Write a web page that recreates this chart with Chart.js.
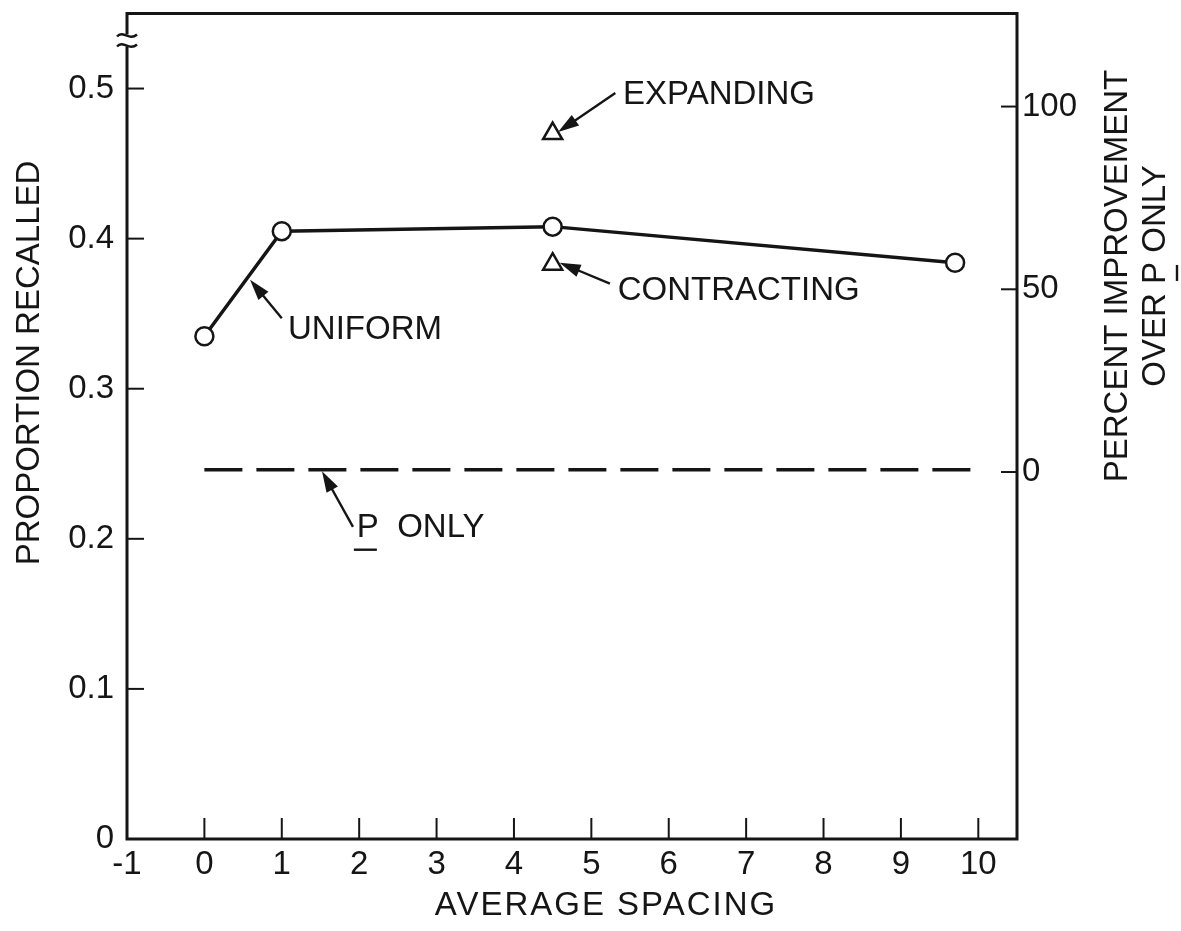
<!DOCTYPE html>
<html>
<head>
<meta charset="utf-8">
<script src="https://cdn.jsdelivr.net/npm/chart.js@4.4.0/dist/chart.umd.min.js"></script>
<style>
    html, body { margin: 0; padding: 0; background: #fff; }
    #wrap { width: 1181px; height: 931px; }
</style>
</head>
<body>
<div id="wrap"><canvas id="spacingChart" width="1181" height="931"></canvas></div>
<script>
// values
var uniformX = [0, 1, 4.5, 9.7];
var uniformY = [0.335, 0.405, 0.408, 0.384];
var expandingX = [4.5];
var expandingY = [0.470];
var contractingX = [4.5];
var contractingY = [0.383];
var pOnlyX = [0, 9.9];
var pOnlyY = [0.246, 0.246];

var xTicks = [-1, 0, 1, 2, 3, 4, 5, 6, 7, 8, 9, 10];
var leftTicks = [0, 0.1, 0.2, 0.3, 0.4, 0.5];
var rightTicks = [0, 50, 100];

// right axis: percent improvement over P only (0 % at the P only level)
var pOnlyLevel = 0.2445;
var propPerHundred = 0.2435;

var INK = '#151515';
var FONT = "'Liberation Sans', Arial, sans-serif";
var FSIZE = 33;

function toPoints(xs, ys) {
    var pts = [];
    for (var i = 0; i < xs.length; i++) pts.push({ x: xs[i], y: ys[i] });
    return pts;
}

function drawArrow(ctx, x1, y1, x2, y2) {
    var ang = Math.atan2(y2 - y1, x2 - x1);
    var head = 21, half = 6.5;
    ctx.beginPath();
    ctx.moveTo(x1, y1);
    ctx.lineTo(x2 - Math.cos(ang) * head * 0.6, y2 - Math.sin(ang) * head * 0.6);
    ctx.lineWidth = 2.4;
    ctx.stroke();
    ctx.beginPath();
    ctx.moveTo(x2, y2);
    ctx.lineTo(x2 - Math.cos(ang) * head - Math.sin(ang) * half, y2 - Math.sin(ang) * head + Math.cos(ang) * half);
    ctx.lineTo(x2 - Math.cos(ang) * head + Math.sin(ang) * half, y2 - Math.sin(ang) * head - Math.cos(ang) * half);
    ctx.closePath();
    ctx.fill();
}

function noEdgePadding(scale) {
    scale.paddingTop = 0;
    scale.paddingBottom = 0;
}

var paperFrame = {
    id: 'paperFrame',
    afterDraw: function (chart) {
        var ctx = chart.ctx;
        var a = chart.chartArea;
        var xs = chart.scales.x, ys = chart.scales.y, y2 = chart.scales.y2;
        ctx.save();
        ctx.strokeStyle = INK;
        ctx.fillStyle = INK;
        ctx.lineCap = 'butt';

        // frame
        ctx.lineWidth = 3;
        ctx.strokeRect(a.left, a.top, a.right - a.left, a.bottom - a.top);

        // inward ticks
        ctx.lineWidth = 2;
        xs.ticks.forEach(function (t) {
            var px = xs.getPixelForValue(t.value);
            ctx.beginPath(); ctx.moveTo(px, a.bottom); ctx.lineTo(px, a.bottom - 21); ctx.stroke();
        });
        ys.ticks.forEach(function (t) {
            var py = ys.getPixelForValue(t.value);
            ctx.beginPath(); ctx.moveTo(a.left, py); ctx.lineTo(a.left + 17, py); ctx.stroke();
        });
        y2.ticks.forEach(function (t) {
            var py = y2.getPixelForValue(t.value);
            ctx.beginPath(); ctx.moveTo(a.right, py); ctx.lineTo(a.right - 16, py); ctx.stroke();
        });

        // axis break mark on the left axis
        var by = ys.getPixelForValue(0.532);
        ctx.fillStyle = '#fff';
        ctx.fillRect(a.left - 3, by - 6, 6, 12);
        ctx.fillStyle = INK;
        ctx.lineWidth = 2.4;
        [-5, 5].forEach(function (d) {
            ctx.beginPath();
            ctx.moveTo(a.left - 10, by + d + 1);
            ctx.bezierCurveTo(a.left - 4, by + d - 6, a.left + 2, by + d + 6, a.left + 10, by + d - 1);
            ctx.stroke();
        });

        // annotations
        ctx.font = FSIZE + 'px ' + FONT;
        ctx.textBaseline = 'middle';
        ctx.textAlign = 'left';
        var notes = [
            { text: 'UNIFORM', tx: 1.08, ty: 0.339, ax: 1.00, ay: 0.347, bx: 0.59, by: 0.3726 },
            { text: 'EXPANDING', tx: 5.41, ty: 0.496, ax: 5.31, ay: 0.497, bx: 4.57, by: 0.471 },
            { text: 'CONTRACTING', tx: 5.34, ty: 0.365, ax: 5.24, ay: 0.370, bx: 4.59, by: 0.384 },
            { text: 'P  ONLY', tx: 1.97, ty: 0.2074, ax: 1.92, ay: 0.208, bx: 1.52, by: 0.245, underlineP: true }
        ];
        notes.forEach(function (n) {
            var tx = xs.getPixelForValue(n.tx), ty = ys.getPixelForValue(n.ty);
            ctx.fillText(n.text, tx, ty);
            drawArrow(ctx, xs.getPixelForValue(n.ax), ys.getPixelForValue(n.ay),
                xs.getPixelForValue(n.bx), ys.getPixelForValue(n.by));
            if (n.underlineP) {
                var w = ctx.measureText('P').width;
                ctx.lineWidth = 2.4;
                ctx.beginPath(); ctx.moveTo(tx - 3, ty + 22); ctx.lineTo(tx + w - 2, ty + 22); ctx.stroke();
            }
        });

        // axis titles
        ctx.textAlign = 'center';
        ctx.save();
        ctx.letterSpacing = '2px';
        ctx.fillText('AVERAGE SPACING', 606, 906);
        ctx.restore();

        ctx.save();
        ctx.translate(30, 363);
        ctx.rotate(-Math.PI / 2);
        ctx.fillText('PROPORTION RECALLED', 0, 0);
        ctx.restore();

        ctx.save();
        ctx.translate(1118, 276);
        ctx.rotate(-Math.PI / 2);
        ctx.fillText('PERCENT IMPROVEMENT', 0, 0);
        ctx.translate(0, 38);
        ctx.fillText('OVER P ONLY', 0, 0);
        var full = ctx.measureText('OVER P ONLY').width;
        var pre = ctx.measureText('OVER ').width;
        var pw = ctx.measureText('P').width;
        ctx.lineWidth = 2.4;
        ctx.beginPath();
        ctx.moveTo(-full / 2 + pre + 3, 21);
        ctx.lineTo(-full / 2 + pre + pw - 3, 21);
        ctx.stroke();
        ctx.restore();

        ctx.restore();
    }
};

Chart.defaults.font.family = FONT;
Chart.defaults.font.size = FSIZE;
Chart.defaults.color = INK;

var chartDiv = document.getElementById('spacingChart');
var myChart = new Chart(chartDiv, {
    type: 'scatter',
    data: {
        datasets: [
            {
                label: 'Uniform',
                data: toPoints(uniformX, uniformY),
                showLine: true,
                borderColor: INK,
                borderWidth: 3.5,
                pointRadius: 9,
                pointBackgroundColor: '#fff',
                pointBorderColor: INK,
                pointBorderWidth: 2.5,
                yAxisID: 'y'
            },
            {
                label: 'Expanding',
                data: toPoints(expandingX, expandingY),
                pointStyle: 'triangle',
                pointRadius: 11,
                pointBackgroundColor: '#fff',
                pointBorderColor: INK,
                pointBorderWidth: 2.5,
                yAxisID: 'y'
            },
            {
                label: 'Contracting',
                data: toPoints(contractingX, contractingY),
                pointStyle: 'triangle',
                pointRadius: 11,
                pointBackgroundColor: '#fff',
                pointBorderColor: INK,
                pointBorderWidth: 2.5,
                yAxisID: 'y'
            },
            {
                label: 'P only',
                data: toPoints(pOnlyX, pOnlyY),
                showLine: true,
                borderColor: INK,
                borderWidth: 3.5,
                borderDash: [38, 14],
                pointRadius: 0,
                yAxisID: 'y'
            }
        ]
    },
    options: {
        responsive: false,
        devicePixelRatio: 1,
        animation: false,
        layout: { padding: { top: 10, left: 0, right: 0, bottom: 0 } },
        plugins: {
            legend: { display: false },
            tooltip: { enabled: false }
        },
        scales: {
            x: {
                type: 'linear',
                position: 'bottom',
                min: -1,
                max: 10.5,
                grid: { display: false },
                border: { display: false },
                afterBuildTicks: function (scale) {
                    scale.ticks = xTicks.map(function (v) { return { value: v }; });
                },
                afterFit: function (scale) { scale.height = 92; },
                ticks: {
                    padding: -2,
                    maxRotation: 0,
                    callback: function (v) { return String(v); }
                }
            },
            y: {
                type: 'linear',
                position: 'left',
                min: 0,
                max: 0.55,
                grid: { display: false },
                border: { display: false },
                afterBuildTicks: function (scale) {
                    scale.ticks = leftTicks.map(function (v) { return { value: v }; });
                },
                afterFit: function (scale) { scale.width = 127; noEdgePadding(scale); },
                ticks: {
                    padding: 5,
                    callback: function (v) { return v === 0 ? '0' : v.toFixed(1); }
                }
            },
            y2: {
                type: 'linear',
                position: 'right',
                min: (0 - pOnlyLevel) / propPerHundred * 100,
                max: (0.55 - pOnlyLevel) / propPerHundred * 100,
                grid: { display: false },
                border: { display: false },
                afterBuildTicks: function (scale) {
                    scale.ticks = rightTicks.map(function (v) { return { value: v }; });
                },
                afterFit: function (scale) { scale.width = 164; noEdgePadding(scale); },
                ticks: {
                    padding: -3,
                    callback: function (v) { return String(v); }
                }
            }
        }
    },
    plugins: [paperFrame]
});
</script>
</body>
</html>
